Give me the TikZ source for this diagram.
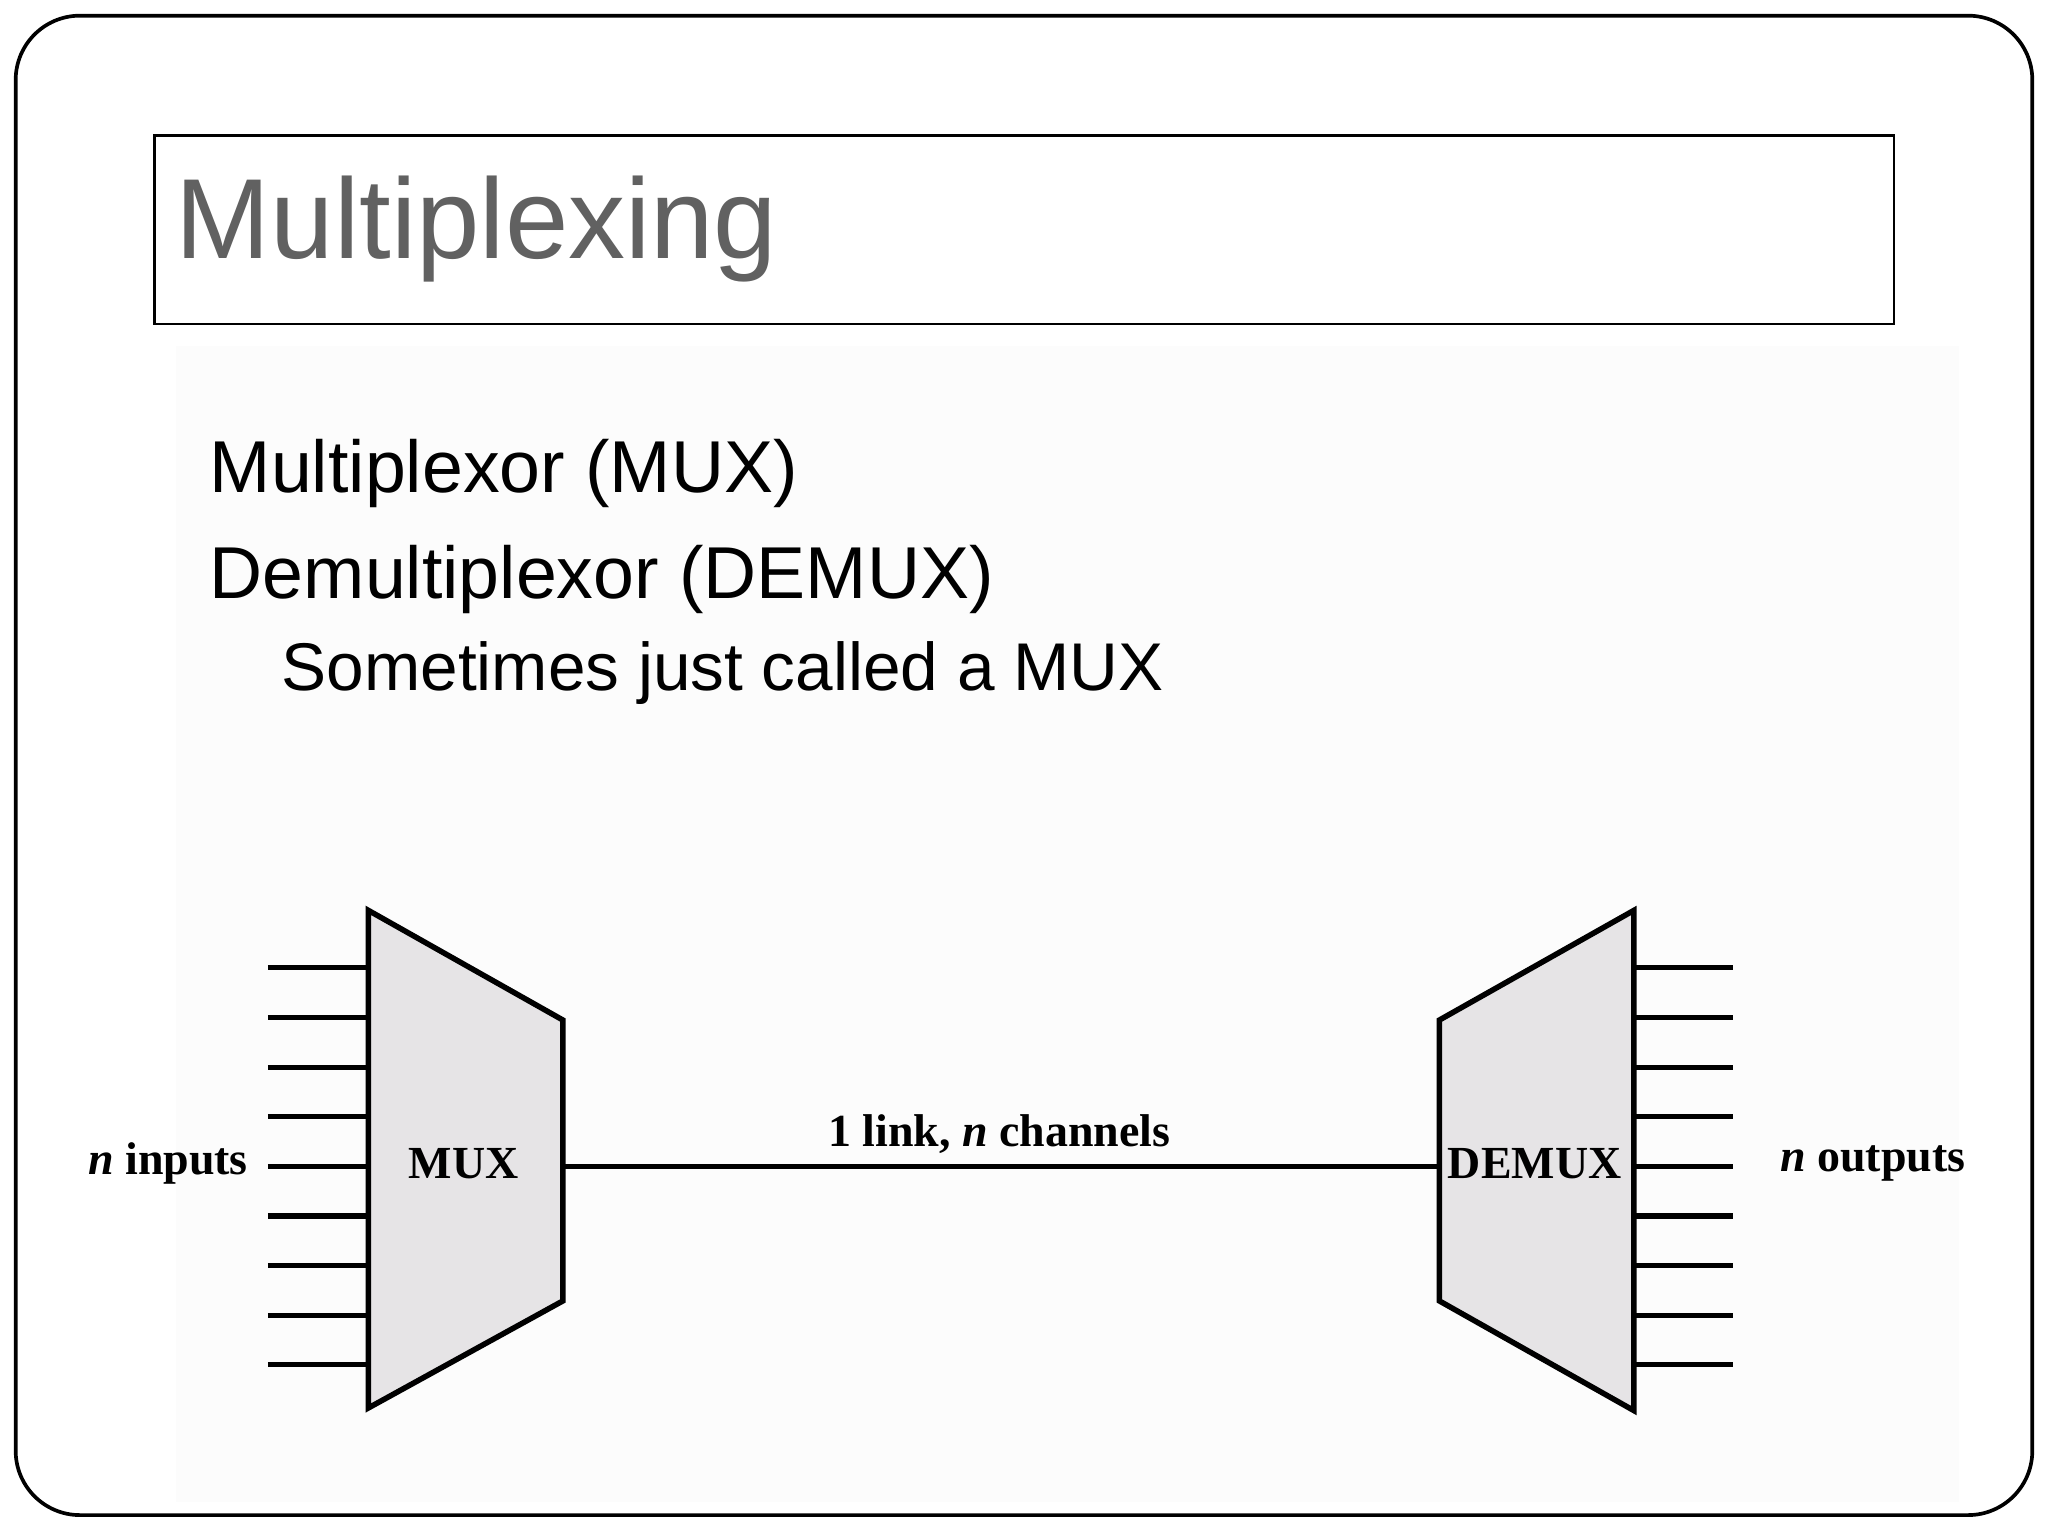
\documentclass[tikz,border=0pt]{standalone}
\usepackage{fontspec}
\setmainfont{Liberation Sans}
\newfontfamily\serifb{Liberation Serif}
\begin{document}
\begin{tikzpicture}[x=0.01cm,y=-0.01cm,
  box/.style={draw=black,line width=1.2pt,fill=muxgray},
  wire/.style={draw=black,line width=1.1pt},
  lbl/.style={font=\serifb\bfseries\fontsize{10pt}{12pt}\selectfont,inner sep=1pt}]
\definecolor{muxgray}{HTML}{E6E4E6}
\useasboundingbox (0,0) rectangle (1568,1176);
\fill[white] (0,0) rectangle (1568,1176);
\fill[black!1] (135,265) rectangle (1500,1150);
\draw[line width=0.8pt,rounded corners=14pt] (12,12) rectangle (1556,1160);
\draw[line width=0.6pt] (118,104) rectangle (1450,248);
\coordinate (title) at (118,104);
\node[anchor=base west,text=black!62,font=\fontsize{24.8pt}{30pt}\selectfont,inner sep=0] (tt) at (134,198) {Multiplexing};
\node[anchor=base west,font=\fontsize{16pt}{18pt}\selectfont,inner sep=0] (l1) at (160,377) {Multiplexor (MUX)};
\node[anchor=base west,font=\fontsize{16pt}{18pt}\selectfont,inner sep=0] (l2) at (160,458) {Demultiplexor (DEMUX)};
\node[anchor=base west,font=\fontsize{14.7pt}{16pt}\selectfont,inner sep=0] (l3) at (215,529) {Sometimes just called a MUX};
\draw[box] (282,697) -- (431,781) -- (431,996) -- (282,1078) -- cycle;
\draw[box] (1251,697) -- (1102,781) -- (1102,996) -- (1251,1080) -- cycle;
\coordinate (mr) at (431,893);
\coordinate (dl) at (1102,893);
\foreach \i in {0,...,8}{
  \coordinate (a\i) at (205,741+38*\i);
  \coordinate (b\i) at (282,741+38*\i);
  \coordinate (c\i) at (1251,741+38*\i);
  \coordinate (d\i) at (1327,741+38*\i);
  \draw[wire] (a\i) -- (b\i);
  \draw[wire] (c\i) -- (d\i);
}
\draw[wire] (mr) -- (dl);
\node[lbl] (mux) at (355,891) {MUX};
\node[lbl] (demux) at (1175,891) {DEMUX};
\node[lbl,anchor=base] (link) at (765,878) {1 link, \textit{n} channels};
\node[lbl,anchor=east] (inp) at (194,891) {\textit{n} inputs};
\node[lbl] (outp) at (1434,891) {\textit{n} outputs};
\end{tikzpicture}
\end{document}
